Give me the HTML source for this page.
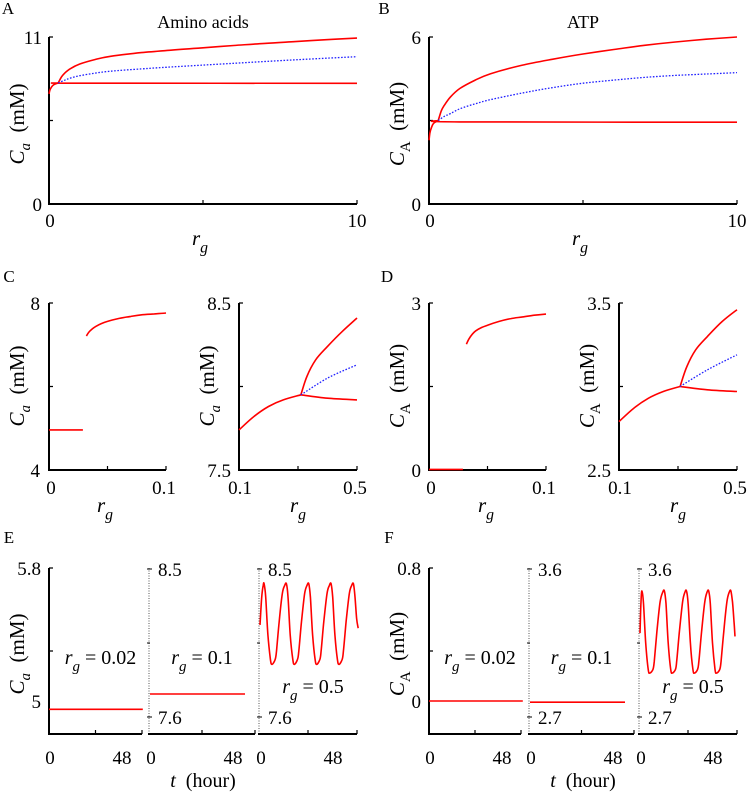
<!DOCTYPE html>
<html><head><meta charset="utf-8"><style>
body{margin:0;background:#fff}
svg{display:block;font-family:"Liberation Serif",serif}
</style></head><body>
<svg id="fig" width="750" height="792" viewBox="0 0 750 792" xmlns="http://www.w3.org/2000/svg"></svg>
<script>
// ---------- data ----------
// Panel A (amino acids) vs rg
const aPreX=[0,0.03,0.08,0.15,0.3], aPreY=[7.25,7.5,7.7,7.85,7.97];
const aUpX=[0.3,0.4,0.5,0.7,1,1.5,2,3,4,5,6,7,8,9,10], aUpY=[7.97,8.35,8.6,8.92,9.22,9.52,9.73,9.97,10.14,10.29,10.44,10.58,10.7,10.82,10.93];
const aBlueX=[0.3,0.5,0.7,1,1.5,2,3,4,6,8,10], aBlueY=[7.97,8.15,8.3,8.45,8.62,8.75,8.9,9.03,9.27,9.5,9.7];
const aLowX=[0.3,1,10], aLowY=[7.97,7.96,7.95];
// Panel B (ATP)
const bPreX=[0,0.03,0.08,0.15,0.3], bPreY=[2.29,2.55,2.75,2.9,3.0];
const bUpX=[0.3,0.4,0.5,0.7,1,1.5,2,3,4,5,6,7,8,9,10], bUpY=[3.0,3.35,3.55,3.85,4.15,4.45,4.68,4.98,5.2,5.39,5.55,5.7,5.82,5.92,6.0];
const bBlueX=[0.3,0.5,0.7,1,1.5,2,3,4,5,6,7,8,9,10], bBlueY=[3.0,3.15,3.25,3.42,3.6,3.75,3.98,4.18,4.34,4.45,4.55,4.62,4.67,4.72];
const bLowX=[0.3,1,10], bLowY=[3.0,2.95,2.94];
// Panel C
const cLowX=[0,0.029], cLowY=[4.96,4.96];
const cUpX=[0.032,0.034,0.037,0.04,0.045,0.05,0.06,0.07,0.08,0.09,0.1], cUpY=[7.21,7.3,7.38,7.44,7.51,7.56,7.63,7.68,7.72,7.74,7.76];
const c2StX=[0.1,0.15,0.2,0.25,0.31], c2StY=[7.74,7.82,7.88,7.92,7.95];
const c2UpX=[0.31,0.33,0.36,0.4,0.45,0.5], c2UpY=[7.95,8.06,8.16,8.24,8.33,8.41];
const c2BlX=[0.31,0.4,0.5], c2BlY=[7.95,8.05,8.13];
const c2LoX=[0.31,0.4,0.5], c2LoY=[7.95,7.93,7.92];
// Panel D
const dLowX=[0,0.029], dLowY=[0.01,0.01];
const dUpX=[0.032,0.034,0.037,0.04,0.045,0.05,0.06,0.07,0.08,0.09,0.1], dUpY=[2.26,2.35,2.44,2.5,2.56,2.6,2.67,2.72,2.75,2.78,2.8];
const d2StX=[0.1,0.15,0.2,0.25,0.307], d2StY=[2.79,2.87,2.93,2.97,3.0];
const d2UpX=[0.307,0.33,0.36,0.4,0.45,0.5], d2UpY=[3.0,3.12,3.22,3.3,3.39,3.46];
const d2BlX=[0.307,0.4,0.5], d2BlY=[3.0,3.1,3.19];
const d2LoX=[0.307,0.4,0.5], d2LoY=[3.0,2.98,2.97];
// Panel E time series
const eT1=[0,60], eV1=[4.95,4.95];
const eT2=[0,60], eV2=[7.74,7.74];
const eT3=[0,1,2,2.6,3.6,5,6.6,7.6,9.6,10.4,12.1,14.1,15.6,16.7,17.7,19.1,20.7,21.7,23.7,24.5,26.2,28.2,29.7,30.8,31.8,33.2,34.8,35.8,37.8,38.6,40.3,42.3,43.8,44.9,45.9,47.3,48.9,49.9,51.9,52.7,54.4,56.4,57.9,59,60,61,62];
const eV3=[8.16,8.32,8.4,8.41,8.33,8.1,7.95,7.92,7.95,8.0,8.18,8.35,8.4,8.41,8.33,8.1,7.95,7.92,7.95,8.0,8.18,8.35,8.4,8.41,8.33,8.1,7.95,7.92,7.95,8.0,8.18,8.35,8.4,8.41,8.33,8.1,7.95,7.92,7.95,8.0,8.18,8.35,8.4,8.41,8.33,8.2,8.14];
// Panel F time series
const fT1=[0,60], fV1=[0.0,0.0];
const fT2=[0,60], fV2=[2.79,2.79];
const fT3=[0,0.6,1.2,2.2,3.6,5.2,6.2,8.2,9.0,10.7,12.7,14.4,15.4,16.4,17.8,19.4,20.4,22.4,23.2,24.9,26.9,28.4,29.4,30.4,31.8,33.4,34.4,36.4,37.2,38.9,40.9,42.4,43.4,44.4,45.8,47.4,48.4,50.4,51.2,52.9,54.9,56.4,57.4,58.4,59.4,60];
const fV3=[3.21,3.4,3.466,3.39,3.15,2.99,2.967,2.99,3.04,3.22,3.4,3.46,3.466,3.39,3.15,2.99,2.967,2.99,3.04,3.22,3.4,3.46,3.466,3.39,3.15,2.99,2.967,2.99,3.04,3.22,3.4,3.46,3.466,3.39,3.15,2.99,2.967,2.99,3.04,3.22,3.4,3.46,3.466,3.4,3.28,3.19];

// ---------- drawing ----------
const NS="http://www.w3.org/2000/svg";
const svg=document.getElementById('fig');
const TK=19;
function el(tag,attrs,parent){const e=document.createElementNS(NS,tag);for(const k in attrs)e.setAttribute(k,attrs[k]);(parent||svg).appendChild(e);return e;}
function lin(d0,d1,r0,r1){return v=>r0+(v-d0)*(r1-r0)/(d1-d0);}
function txt(x,y,s,size,anchor,name){const t=el('text',{x:x,y:y,'font-size':size,'text-anchor':anchor||'middle',fill:'#000'});t.textContent=s;


return t;}
function sub(x,y,main,subs,size,anchor,name,rest){const t=el('text',{x:x,y:y,'font-size':size,'text-anchor':anchor||'middle',fill:'#000'});


const a=el('tspan',{'font-style':'italic'},t);a.textContent=main;
const b=el('tspan',{'font-style':'italic',dy:size*0.35,'font-size':size*0.75},t);b.textContent=subs;
if(rest){const c=el('tspan',{dy:-size*0.35},t);c.textContent=rest;}
return t;}
function ylab(x,y,main,subs,italicSub,name){const g=el('g',{transform:`translate(${x},${y}) rotate(-90)`});


const t=el('text',{x:0,y:0,'font-size':21,'text-anchor':'middle'},g);
const a=el('tspan',{'font-style':'italic'},t);a.textContent=main;
const b=el('tspan',{dy:6,'font-size':15,'font-style':italicSub?'italic':'normal'},t);b.textContent=subs;
const c=el('tspan',{dy:-6},t);c.textContent='\u2002(mM)';}
function line(xs,ys,sx,sy,blue,name){
const P=xs.map((v,i)=>[sx(v),sy(ys[i])]);
let d='M'+P[0][0].toFixed(1)+','+P[0][1].toFixed(1);
for(let i=0;i<P.length-1;i++){const p0=P[Math.max(0,i-1)],p1=P[i],p2=P[i+1],p3=P[Math.min(P.length-1,i+2)];
const c1=[p1[0]+(p2[0]-p0[0])/6,p1[1]+(p2[1]-p0[1])/6],c2=[p2[0]-(p3[0]-p1[0])/6,p2[1]-(p3[1]-p1[1])/6];
d+=`C${c1[0].toFixed(1)},${c1[1].toFixed(1)} ${c2[0].toFixed(1)},${c2[1].toFixed(1)} ${p2[0].toFixed(1)},${p2[1].toFixed(1)}`;}
const p=el('path',{d:d,fill:'none',stroke:blue?'#2020ff':'#ff0000','stroke-width':blue?1.3:1.6,'stroke-dasharray':blue?'1.6,1.6':'none','stroke-linejoin':'round'});

}
function axes(x0,x1,y0,y1,name,solid){const g=el('g',{});


el('path',{d:`M${x0},${y0}V${y1}`,stroke:solid?'#000':'#555','stroke-width':solid?2:1,'stroke-dasharray':solid?'none':'1,1.5',fill:'none'},g);
el('path',{d:`M${x0-1},${y1}H${x1}`,stroke:'#000','stroke-width':2,fill:'none'},g);
if(solid){el('path',{d:`M${x0},${y0}h4M${x0},${(y0+y1)/2}h4`,stroke:'#000','stroke-width':1.2},g);}
el('path',{d:`M${(x0+x1)/2},${y1}v-4M${x1},${y1}v-4`,stroke:'#000','stroke-width':1.2},g);
return g;}

// Panel A
(function(){const sx=lin(0,10,49,357),sy=lin(0,11,204,37);
txt(8,14,'A',17,'middle','panel-label-a');txt(203,28,'Amino acids',18,'middle','title-amino-acids');
axes(49,357,37,204,'axes-a',true);
txt(42,44,'11',TK,'end','ytick-a-11');txt(42,211,'0',TK,'end','ytick-a-0');
txt(50,227,'0',TK,'middle','xtick-a-0');txt(357,227,'10',TK,'middle','xtick-a-10');
sub(200,245,'r','g',21,'middle','x-axis-title-a');ylab(24,124,'C','a',true,'y-axis-title-a');
line(aPreX,aPreY,sx,sy,false,'a-pre-branch');line(aLowX,aLowY,sx,sy,false,'a-lower-branch');
line(aUpX,aUpY,sx,sy,false,'a-upper-branch');line(aBlueX,aBlueY,sx,sy,true,'a-unstable-branch');})();
// Panel B
(function(){const sx=lin(0,10,429,737),sy=lin(0,6,204,37);
txt(384,14,'B',17,'middle','panel-label-b');txt(583,28,'ATP',18,'middle','title-atp');
axes(429,737,37,204,'axes-b',true);
txt(421,44,'6',TK,'end','ytick-b-6');txt(421,211,'0',TK,'end','ytick-b-0');
txt(430,227,'0',TK,'middle','xtick-b-0');txt(737,227,'10',TK,'middle','xtick-b-10');
sub(580,245,'r','g',21,'middle','x-axis-title-b');ylab(404,124,'C','A',false,'y-axis-title-b');
line(bPreX,bPreY,sx,sy,false,'b-pre-branch');line(bLowX,bLowY,sx,sy,false,'b-lower-branch');
line(bUpX,bUpY,sx,sy,false,'b-upper-branch');line(bBlueX,bBlueY,sx,sy,true,'b-unstable-branch');})();
// Panel C
(function(){txt(9,282,'C',17,'middle','panel-label-c');
let sx=lin(0,0.1,49,166),sy=lin(4,8,470,303);
axes(49,166,303,470,'axes-c-left',true);
txt(40,310,'8',TK,'end','ytick-c-8');txt(40,477,'4',TK,'end','ytick-c-4');
txt(51,494,'0',TK,'middle','xtick-c-0');txt(164,494,'0.1',TK,'middle','xtick-c-01');
sub(105,512,'r','g',21,'middle','x-axis-title-c-left');ylab(24,386,'C','a',true,'y-axis-title-c-left');
line(cLowX,cLowY,sx,sy,false,'c-low-branch');line(cUpX,cUpY,sx,sy,false,'c-high-branch');
sx=lin(0.1,0.5,239,357);sy=lin(7.5,8.5,470,303);
axes(239,357,303,470,'axes-c-right',true);
txt(231,310,'8.5',TK,'end','ytick-c-85');txt(231,477,'7.5',TK,'end','ytick-c-75');
txt(240,494,'0.1',TK,'middle','xtick-c-01b');txt(355,494,'0.5',TK,'middle','xtick-c-05');
sub(298,512,'r','g',21,'middle','x-axis-title-c-right');ylab(214,386,'C','a',true,'y-axis-title-c-right');
line(c2StX,c2StY,sx,sy,false,'c-stable-branch');line(c2UpX,c2UpY,sx,sy,false,'c-osc-max');
line(c2LoX,c2LoY,sx,sy,false,'c-osc-min');line(c2BlX,c2BlY,sx,sy,true,'c-unstable-branch');})();
// Panel D
(function(){txt(387,282,'D',17,'middle','panel-label-d');
let sx=lin(0,0.1,429,546),sy=lin(0,3,470,303);
axes(429,546,303,470,'axes-d-left',true);
txt(421,310,'3',TK,'end','ytick-d-3');txt(421,477,'0',TK,'end','ytick-d-0');
txt(431,494,'0',TK,'middle','xtick-d-0');txt(544,494,'0.1',TK,'middle','xtick-d-01');
sub(486,512,'r','g',21,'middle','x-axis-title-d-left');ylab(404,386,'C','A',false,'y-axis-title-d-left');
line(dLowX,dLowY,sx,sy,false,'d-low-branch');line(dUpX,dUpY,sx,sy,false,'d-high-branch');
sx=lin(0.1,0.5,619,737);sy=lin(2.5,3.5,470,303);
axes(619,737,303,470,'axes-d-right',true);
txt(611,310,'3.5',TK,'end','ytick-d-35');txt(611,477,'2.5',TK,'end','ytick-d-25');
txt(620,494,'0.1',TK,'middle','xtick-d-01b');txt(735,494,'0.5',TK,'middle','xtick-d-05');
sub(678,512,'r','g',21,'middle','x-axis-title-d-right');ylab(594,386,'C','A',false,'y-axis-title-d-right');
line(d2StX,d2StY,sx,sy,false,'d-stable-branch');line(d2UpX,d2UpY,sx,sy,false,'d-osc-max');
line(d2LoX,d2LoY,sx,sy,false,'d-osc-min');line(d2BlX,d2BlY,sx,sy,true,'d-unstable-branch');})();
// Time panels
function timePanel(X,letter,top,bot,subTop,subBot,labA,labB,data,ylabMain,ylabSub,ital,key){
 txt(X[0]-40,543,letter,17,'middle','panel-label-'+key);
 let sx=lin(0,48,X[0],X[0]+75),sy=lin(bot,top,701,568);
 axes(X[0],X[1],568,734,'axes-'+key+'-1',true);
 txt(X[0]-8,575,labA,TK,'end','ytick-'+key+'-top');txt(X[0]-8,708,labB,TK,'end','ytick-'+key+'-bottom');
 line(data[0],data[1],sx,sy,false,key+'-series-rg002');
 [[X[2],X[3],data[2],data[3],'rg01'],[X[4],X[5],data[4],data[5],'rg05']].forEach((s,i)=>{
  const sx2=lin(0,48,s[0]+1,s[0]+77),sy2=lin(subBot,subTop,717,569);
  axes(s[0],s[1],568,734,'axes-'+key+'-'+(i+2),false);
  el('path',{d:`M${s[0]-2},569h5M${s[0]-2},643h3M${s[0]-2},717h5`,stroke:'#000','stroke-width':1});
  txt(s[0]+9,576,String(subTop),TK,'start','ytick-'+key+'-'+(i+2)+'-top');
  txt(s[0]+9,724,String(subBot),TK,'start','ytick-'+key+'-'+(i+2)+'-bottom');
  line(s[2],s[3],sx2,sy2,false,key+'-series-'+s[4]);
 });
 [[X[0]+1,X[0]+73],[X[2]+2,X[2]+84],[X[4]+2,X[4]+74]].forEach((p,i)=>{
  txt(p[0],764,'0',TK,'middle','xtick-'+key+'-'+(i+1)+'-0');
  txt(p[1],764,'48',TK,'middle','xtick-'+key+'-'+(i+1)+'-48');});
 sub((X[0]+X[1])/2+5,664,'r','g',20,'middle','label-'+key+'-rg002',' = 0.02');
 sub((X[2]+X[3])/2,664,'r','g',20,'middle','label-'+key+'-rg01',' = 0.1');
 sub((X[4]+X[5])/2+5,693,'r','g',20,'middle','label-'+key+'-rg05',' = 0.5');
 const t=el('text',{x:(X[0]+X[5])/2,y:787,'font-size':20,'text-anchor':'middle'});
 
 
 const a=el('tspan',{'font-style':'italic'},t);a.textContent='t';const b=el('tspan',{},t);b.textContent='\u2002(hour)';
 ylab(X[0]-25,654,ylabMain,ylabSub,ital,'y-axis-title-'+key);
}
timePanel([49,142,149,255,259,357],'E',5.8,5,8.5,7.6,'5.8','5',[eT1,eV1,eT2,eV2,eT3,eV3],"C","a",true,'e');
timePanel([429,521,529,634,639,737],'F',0.8,0,3.6,2.7,'0.8','0',[fT1,fV1,fT2,fV2,fT3,fV3],"C","A",false,'f');
</script>
</body></html>
